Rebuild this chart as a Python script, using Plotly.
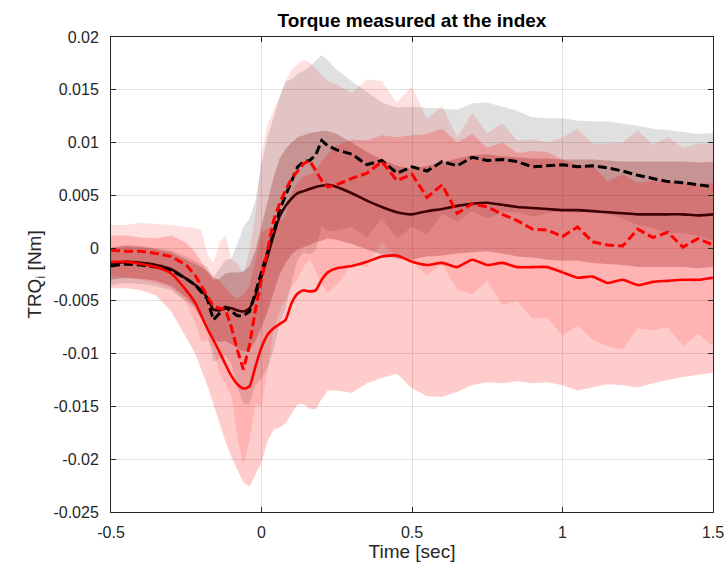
import plotly.graph_objects as go

# time grid (s)
t = [-0.5, -0.45, -0.4, -0.35, -0.3, -0.25,
     -0.22, -0.2, -0.18, -0.16, -0.14, -0.12, -0.1, -0.08, -0.06, -0.04, -0.02, 0.0,
     0.02, 0.04, 0.06, 0.08, 0.1, 0.12, 0.14, 0.16, 0.18, 0.2, 0.22,
     0.25, 0.3, 0.35, 0.4, 0.45, 0.5, 0.55, 0.6, 0.65, 0.7, 0.75, 0.8, 0.85, 0.9, 0.95,
     1.0, 1.05, 1.1, 1.15, 1.2, 1.25, 1.3, 1.35, 1.4, 1.45, 1.5]

# black dashed mean
black_dash = [-0.0017, -0.0015, -0.0016, -0.0018, -0.0021, -0.0029,
              -0.0035, -0.0041, -0.0048, -0.0068, -0.0062, -0.0056, -0.0060, -0.0064, -0.0064, -0.0060, -0.0042, -0.0022,
              -0.0004, 0.0014, 0.0036, 0.0050, 0.0064, 0.0077, 0.0082, 0.0083, 0.0088, 0.0102, 0.0097,
              0.0093, 0.0089, 0.0079, 0.0083, 0.0071, 0.0077, 0.0073, 0.0082, 0.0078, 0.0086, 0.0083, 0.0084, 0.0082, 0.0077, 0.0078,
              0.0079, 0.0077, 0.0078, 0.0076, 0.0073, 0.0069, 0.0066, 0.0063, 0.0062, 0.0060, 0.0058]
black_sd = [0.0018, 0.0018, 0.0018, 0.0018, 0.0019, 0.0021,
            0.0023, 0.0026, 0.0030, 0.0040, 0.0043, 0.0045, 0.0050, 0.0068, 0.0084, 0.0088, 0.0087, 0.0102,
            0.0109, 0.0111, 0.0107, 0.0108, 0.0096, 0.0088, 0.0086, 0.0089, 0.0090, 0.0081, 0.0081,
            0.0076, 0.0069, 0.0069, 0.0055, 0.0062, 0.0057, 0.0060, 0.0050, 0.0053, 0.0051, 0.0055, 0.0050, 0.0048, 0.0047, 0.0045,
            0.0044, 0.0044, 0.0042, 0.0044, 0.0045, 0.0047, 0.0047, 0.0049, 0.0048, 0.0048, 0.0051]

# dark (maroon) solid mean
dark_solid = [-0.0015, -0.0013, -0.0014, -0.0016, -0.0020, -0.0029,
              -0.0035, -0.0040, -0.0047, -0.0058, -0.0059, -0.0056, -0.0057, -0.0059, -0.0060, -0.0057, -0.0045, -0.0027,
              -0.0008, 0.0012, 0.0030, 0.0040, 0.0047, 0.0052, 0.0054, 0.0056, 0.0058, 0.0059, 0.0060,
              0.0058, 0.0052, 0.0045, 0.0039, 0.0034, 0.0032, 0.0035, 0.0037, 0.0040, 0.0042, 0.0043, 0.0041, 0.0039, 0.0038, 0.0037,
              0.0036, 0.0036, 0.0035, 0.0034, 0.0033, 0.0032, 0.0032, 0.0032, 0.0032, 0.0031, 0.0032]
dark_sd = [0.0015, 0.0015, 0.0015, 0.0015, 0.0016, 0.0018,
           0.0020, 0.0022, 0.0025, 0.0028, 0.0030, 0.0032, 0.0034, 0.0036, 0.0038, 0.0040, 0.0043, 0.0048,
           0.0052, 0.0055, 0.0055, 0.0054, 0.0053, 0.0053, 0.0053, 0.0053, 0.0052, 0.0052, 0.0051,
           0.0050, 0.0048, 0.0046, 0.0045, 0.0044, 0.0043, 0.0043, 0.0044, 0.0045, 0.0046, 0.0046, 0.0046, 0.0047, 0.0047, 0.0048,
           0.0048, 0.0048, 0.0049, 0.0049, 0.0049, 0.0050, 0.0050, 0.0050, 0.0050, 0.0050, 0.0050]

# red dashed mean
red_dash = [-0.0002, -0.0003, -0.0003, -0.0005, -0.0008, -0.0016,
            -0.0026, -0.0036, -0.0046, -0.0055, -0.0057, -0.0058, -0.0075, -0.0097, -0.0115, -0.0092, -0.0058, -0.0030,
            0.0000, 0.0026, 0.0042, 0.0055, 0.0066, 0.0073, 0.0080, 0.0083, 0.0074, 0.0064, 0.0058,
            0.0060, 0.0066, 0.0071, 0.0082, 0.0064, 0.0070, 0.0048, 0.0060, 0.0033, 0.0042, 0.0039, 0.0032, 0.0026, 0.0018, 0.0017,
            0.0011, 0.0020, 0.0006, 0.0003, 0.0002, 0.0018, 0.0010, 0.0015, 0.0001, 0.0009, 0.0003]
red_dash_sd = [0.0024, 0.0025, 0.0027, 0.0028, 0.0030, 0.0036,
               0.0045, 0.0053, 0.0041, 0.0041, 0.0062, 0.0070, 0.0065, 0.0082, 0.0090, 0.0090, 0.0090, 0.0120,
               0.0117, 0.0104, 0.0101, 0.0103, 0.0103, 0.0102, 0.0098, 0.0093, 0.0096, 0.0099, 0.0100,
               0.0095, 0.0081, 0.0089, 0.0076, 0.0074, 0.0083, 0.0074, 0.0075, 0.0072, 0.0086, 0.0070, 0.0086, 0.0076, 0.0085, 0.0083,
               0.0094, 0.0093, 0.0093, 0.0096, 0.0098, 0.0094, 0.0088, 0.0090, 0.0094, 0.0090, 0.0096]

# red solid mean
red_solid = [-0.0013, -0.0013, -0.0015, -0.0018, -0.0024, -0.0040,
             -0.0052, -0.0064, -0.0076, -0.0087, -0.0098, -0.0110, -0.0121, -0.0129, -0.0133, -0.0131, -0.0112, -0.0094,
             -0.0082, -0.0076, -0.0072, -0.0068, -0.0052, -0.0043, -0.0040, -0.0041, -0.0040, -0.0030, -0.0023,
             -0.0019, -0.0017, -0.0013, -0.0008, -0.0007, -0.0013, -0.0016, -0.0014, -0.0018, -0.0011, -0.0016, -0.0014, -0.0018, -0.0018, -0.0018,
             -0.0023, -0.0028, -0.0027, -0.0033, -0.0030, -0.0035, -0.0032, -0.0031, -0.0030, -0.0030, -0.0028]
red_solid_sd = [0.0025, 0.0025, 0.0025, 0.0027, 0.0036, 0.0045,
                0.0048, 0.0051, 0.0054, 0.0060, 0.0067, 0.0073, 0.0077, 0.0081, 0.0089, 0.0095, 0.0103, 0.0109,
                0.0101, 0.0096, 0.0098, 0.0098, 0.0105, 0.0105, 0.0108, 0.0111, 0.0113, 0.0113, 0.0112,
                0.0116, 0.0120, 0.0115, 0.0115, 0.0112, 0.0120, 0.0124, 0.0127, 0.0118, 0.0119, 0.0111, 0.0114, 0.0108, 0.0110, 0.0109,
                0.0107, 0.0107, 0.0105, 0.0096, 0.0100, 0.0097, 0.0096, 0.0094, 0.0092, 0.0090, 0.0090]

x_ticks = [-0.5, 0, 0.5, 1, 1.5]
x_ticklabels = ["-0.5", "0", "0.5", "1", "1.5"]
y_ticks = [-0.025, -0.02, -0.015, -0.01, -0.005, 0, 0.005, 0.01, 0.015, 0.02]
y_ticklabels = ["-0.025", "-0.02", "-0.015", "-0.01", "-0.005", "0", "0.005", "0.01", "0.015", "0.02"]

FONT = "Liberation Sans, Arial, Helvetica, sans-serif"

fig = go.Figure()


def band(mean, sd, color):
    upper = [m + s for m, s in zip(mean, sd)]
    lower = [m - s for m, s in zip(mean, sd)]
    fig.add_trace(go.Scatter(x=t + t[::-1], y=upper + lower[::-1], fill="toself",
                             fillcolor=color, line=dict(width=0), mode="lines",
                             hoverinfo="skip", showlegend=False))


band(black_dash, black_sd, "rgba(0,0,0,0.12)")
band(dark_solid, dark_sd, "rgba(100,0,0,0.25)")
band(red_dash, red_dash_sd, "rgba(255,0,0,0.12)")
band(red_solid, red_solid_sd, "rgba(255,0,0,0.2)")

fig.add_trace(go.Scatter(x=t, y=dark_solid, mode="lines",
                         line=dict(color="#3c0000", width=2.6, shape="spline", smoothing=0.6),
                         showlegend=False))
fig.add_trace(go.Scatter(x=t, y=black_dash, mode="lines",
                         line=dict(color="#000000", width=3, dash="9px,4px"), showlegend=False))
fig.add_trace(go.Scatter(x=t, y=red_solid, mode="lines",
                         line=dict(color="#ff0000", width=2.6, shape="spline", smoothing=0.6),
                         showlegend=False))
fig.add_trace(go.Scatter(x=t, y=red_dash, mode="lines",
                         line=dict(color="#ff0000", width=3, dash="9px,4px"), showlegend=False))

axis_common = dict(showgrid=True, gridcolor="#e0e0e0", gridwidth=1, zeroline=False,
                   showline=True, linecolor="#262626", linewidth=1, mirror="ticks",
                   ticks="inside", ticklen=5, tickcolor="#262626", automargin=False,
                   tickfont=dict(family=FONT, size=16, color="#262626"))

fig.update_layout(
    width=727, height=572,
    margin=dict(l=111, r=14, t=37, b=60),
    plot_bgcolor="white", paper_bgcolor="white",
    showlegend=False,
    title=dict(text="<b>Torque measured at the index</b>", x=0.5, xref="paper",
               y=1 - 20 / 572, yref="container", xanchor="center", yanchor="middle",
               font=dict(family=FONT, size=19, color="#000000")),
    xaxis=dict(range=[-0.5, 1.5], tickvals=x_ticks, ticktext=x_ticklabels,
               title=dict(text="Time [sec]", standoff=4,
                          font=dict(family=FONT, size=19, color="#262626")),
               ticklabelstandoff=6, **axis_common),
    yaxis=dict(range=[-0.025, 0.02], tickvals=y_ticks, ticktext=y_ticklabels,
               title=dict(text="TRQ<sub>i</sub> [Nm]", standoff=6,
                          font=dict(family=FONT, size=19, color="#262626")),
               ticklabelstandoff=8, **axis_common),
)

fig.write_html("out.html")
